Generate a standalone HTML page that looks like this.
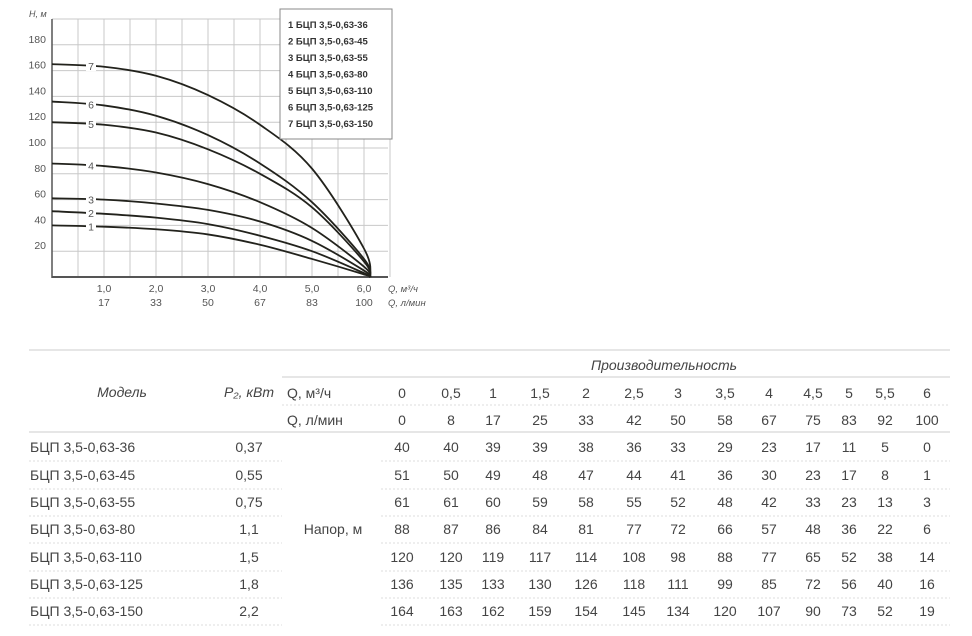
<!DOCTYPE html>
<html><head><meta charset="utf-8"><style>
body{margin:0;width:972px;height:636px;background:#fff;position:relative;overflow:hidden;font-family:"Liberation Sans","DejaVu Sans",sans-serif;}
svg{position:absolute;left:0;top:0}
.t{position:absolute;font-size:14px;color:#444;white-space:nowrap;line-height:16px}
.c{transform:translateX(-50%)}
.i{font-style:italic}
</style></head><body>
<svg id="chart" width="972" height="330" font-family="Liberation Sans, sans-serif"></svg>
<svg id="lines" width="972" height="636" style="pointer-events:none"></svg>
<div id="table"></div>
<script>
// ---- chart data ----
const curveQ=[0,1,2,3,4,5,6,6.12];
const curve1=[40,39,37,33,25,14,2,0];
const curve2=[51,49,46,41,32,20,3,0];
const curve3=[61,60,57,52,43,28,5,0];
const curve4=[88,86,81,72,58,38,8,0];
const curve5=[120,118,112,99,80,54,12,0];
const curve6=[136,133,125,110,88,58,14,0];
const curve7=[165,163,156,141,118,84,22,0];
const curves=[curve1,curve2,curve3,curve4,curve5,curve6,curve7];
const yTicks=[20,40,60,80,100,120,140,160,180];
const xTicksM3=["1,0","2,0","3,0","4,0","5,0","6,0"];
const xTicksLmin=["17","33","50","67","83","100"];
const legendItems=["БЦП 3,5-0,63-36","БЦП 3,5-0,63-45","БЦП 3,5-0,63-55","БЦП 3,5-0,63-80","БЦП 3,5-0,63-110","БЦП 3,5-0,63-125","БЦП 3,5-0,63-150"];
// ---- table data ----
const qM3=["0","0,5","1","1,5","2","2,5","3","3,5","4","4,5","5","5,5","6"];
const qLmin=["0","8","17","25","33","42","50","58","67","75","83","92","100"];
const models=["БЦП 3,5-0,63-36","БЦП 3,5-0,63-45","БЦП 3,5-0,63-55","БЦП 3,5-0,63-80","БЦП 3,5-0,63-110","БЦП 3,5-0,63-125","БЦП 3,5-0,63-150"];
const power=["0,37","0,55","0,75","1,1","1,5","1,8","2,2"];
const head1=[40,40,39,39,38,36,33,29,23,17,11,5,0];
const head2=[51,50,49,48,47,44,41,36,30,23,17,8,1];
const head3=[61,61,60,59,58,55,52,48,42,33,23,13,3];
const head4=[88,87,86,84,81,77,72,66,57,48,36,22,6];
const head5=[120,120,119,117,114,108,98,88,77,65,52,38,14];
const head6=[136,135,133,130,126,118,111,99,85,72,56,40,16];
const head7=[164,163,162,159,154,145,134,120,107,90,73,52,19];
const heads=[head1,head2,head3,head4,head5,head6,head7];

const NS="http://www.w3.org/2000/svg";
const X=q=>52+q*52, Y=v=>277-v*1.29;
const svg=document.getElementById('chart');
function mk(tag,attrs,parent){const e=document.createElementNS(NS,tag);for(const k in attrs)e.setAttribute(k,attrs[k]);(parent||svg).appendChild(e);return e;}
for(let i=1;i<=13;i++){const g=mk('line',{x1:X(i*0.5),x2:X(i*0.5),y1:19,y2:277,stroke:'#c8c8c8','stroke-width':1});

}
for(let v=20;v<=200;v+=20){const g=mk('line',{x1:52,x2:388,y1:Y(v),y2:Y(v),stroke:'#c8c8c8','stroke-width':1});

}
const ax=mk('line',{x1:52,x2:52,y1:19,y2:278,stroke:'#555','stroke-width':1.5});


const bx=mk('line',{x1:52,x2:388,y1:277,y2:277,stroke:'#555','stroke-width':2});


yTicks.forEach(v=>{const t=mk('text',{x:46,y:Y(v)-2,'text-anchor':'end','font-size':10.5,fill:'#555'});t.textContent=v;

});
const yt=mk('text',{x:29,y:17,'font-size':9,'font-style':'italic',fill:'#555'});yt.textContent='H, м';


xTicksM3.forEach((s,i)=>{const t=mk('text',{x:X(i+1),y:292,'text-anchor':'middle','font-size':10.5,fill:'#555'});t.textContent=s;

});
xTicksLmin.forEach((s,i)=>{const t=mk('text',{x:X(i+1),y:306,'text-anchor':'middle','font-size':10.5,fill:'#555'});t.textContent=s;

});
const xt1=mk('text',{x:388,y:292,'font-size':9.5,'font-style':'italic',fill:'#555'});xt1.textContent='Q, м³/ч';


const xt2=mk('text',{x:388,y:306,'font-size':9.5,'font-style':'italic',fill:'#555'});xt2.textContent='Q, л/мин';


function smooth(pts){let d='M'+pts[0][0]+','+pts[0][1];for(let i=0;i<pts.length-1;i++){const p0=pts[Math.max(0,i-1)],p1=pts[i],p2=pts[i+1],p3=pts[Math.min(pts.length-1,i+2)];
d+=' C'+(p1[0]+(p2[0]-p0[0])/6)+','+(p1[1]+(p2[1]-p0[1])/6)+' '+(p2[0]-(p3[0]-p1[0])/6)+','+(p2[1]-(p3[1]-p1[1])/6)+' '+p2[0]+','+p2[1];}return d;}
curves.forEach((c,k)=>{const pts=c.map((v,i)=>[X(curveQ[i]),Y(v)]);
const p=mk('path',{d:smooth(pts),fill:'none',stroke:'#22221c','stroke-width':1.8});


const lx=X(0.75),ly=Y(c[0]+(c[1]-c[0])*0.75);
mk('rect',{x:lx-5,y:ly-6,width:10,height:11,fill:'#fff'});
const t=mk('text',{x:lx,y:ly+4,'text-anchor':'middle','font-size':10.5,fill:'#555'});t.textContent=k+1;

});
const lg=mk('rect',{x:280,y:9,width:112,height:130,fill:'#fff',stroke:'#888','stroke-width':1});


legendItems.forEach((s,i)=>{const t=mk('text',{x:288,y:28+i*16.5,'font-size':9.5,'font-weight':'bold',fill:'#333'});t.textContent=(i+1)+' '+s;

});

const tb=document.getElementById('table'), ln=document.getElementById('lines');
function txt(s,x,y,cls,name){const d=document.createElement('div');d.className='t '+(cls||'');d.style.left=x+'px';d.style.top=(y-8)+'px';d.textContent=s;


tb.appendChild(d);return d;}
function hl(x1,x2,y,dash,col){const l=document.createElementNS(NS,'line');l.setAttribute('x1',x1);l.setAttribute('x2',x2);l.setAttribute('y1',y);l.setAttribute('y2',y);l.setAttribute('stroke',col||'#ddd');l.setAttribute('stroke-width',dash?1:1.5);if(dash)l.setAttribute('stroke-dasharray','2,2');ln.appendChild(l);}
hl(29,950,350);hl(282,950,377);hl(282,950,405,true);hl(29,950,432);
const rowY=[447,475,502,529,557,584,611];
rowY.forEach(y=>{hl(29,282,y+14,true);hl(381,950,y+14,true);});
const colX=[402,451,493,540,586,634,678,725,769,813,849,885,927];
txt('Производительность',664,365,'c i','table-title');
txt('Модель',122,392,'c i','model-header');
txt('P₂, кВт',249,392,'c i','power-header');
txt('Q, м³/ч',287,393,'','q-m3-header');
txt('Q, л/мин',287,420,'','q-lmin-header');
qM3.forEach((s,i)=>txt(s,colX[i],393,'c','q-m3-value'));
qLmin.forEach((s,i)=>txt(s,colX[i],420,'c','q-lmin-value'));
txt('Напор, м',333,529,'c','head-label');
models.forEach((m,r)=>{txt(m,30,rowY[r],'','model-name');txt(power[r],249,rowY[r],'c','power-value');
heads[r].forEach((v,i)=>txt(String(v),colX[i],rowY[r],'c','head-value'));});
</script>
</body></html>
